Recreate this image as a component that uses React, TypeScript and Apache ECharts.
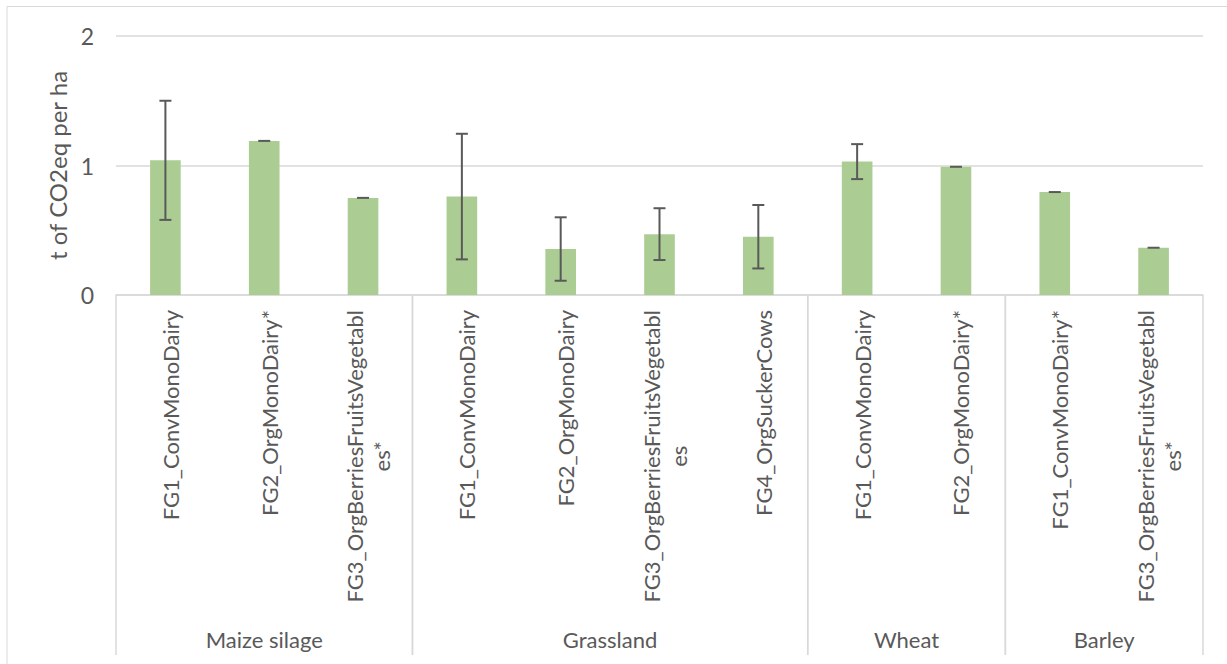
import React, { useEffect, useRef } from "react";
import * as echarts from "echarts";

// Crop / farm-group combinations on the x axis
const categories = [
  "FG1_ConvMonoDairy",
  "FG2_OrgMonoDairy*",
  "FG3_OrgBerriesFruitsVegetables*",
  "FG1_ConvMonoDairy",
  "FG2_OrgMonoDairy",
  "FG3_OrgBerriesFruitsVegetables",
  "FG4_OrgSuckerCows",
  "FG1_ConvMonoDairy",
  "FG2_OrgMonoDairy*",
  "FG1_ConvMonoDairy*",
  "FG3_OrgBerriesFruitsVegetables*",
];

// Crop groups: first and last category index of each
const groupNames = ["Maize silage", "Grassland", "Wheat", "Barley"];
const groupStart = [0, 3, 7, 9];
const groupEnd = [2, 6, 8, 10];

// Mean emission (t CO2eq per ha) and error-bar half width
const meanValues = [1.04, 1.19, 0.75, 0.76, 0.355, 0.47, 0.45, 1.03, 0.99, 0.795, 0.365];
const errorValues = [0.46, 0, 0, 0.485, 0.245, 0.2, 0.245, 0.135, 0, 0, 0];

const yTicks = [0, 1, 2];

const TEXT = "#595959";
const LINE = "#d9d9d9";
const FONT = "Lato, 'Open Sans', sans-serif";
const LABEL_SIZE = 22;
const TICK_SIZE = 23;
const TITLE_SIZE = 24;

// Excel-style wrapping of long category names
function wrapLabel(s: string): string {
  const max = 28;
  const lines: string[] = [];
  for (let i = 0; i < s.length; i += max) lines.push(s.slice(i, i + max));
  return lines.map((l) => "{c|" + l + "}").join("\n");
}

export default function App() {
  const ref = useRef<HTMLDivElement>(null);

  useEffect(() => {
    document.body.style.margin = "0";
    if (!ref.current) return;
    const chart = echarts.init(ref.current, undefined, { renderer: "svg" });

    const errorData = categories.map((_, i) => [
      i,
      meanValues[i] - errorValues[i],
      meanValues[i] + errorValues[i],
    ]);
    const groupData = groupNames.map((_, g) => [groupStart[g], groupEnd[g]]);

    chart.setOption({
      animation: false,
      textStyle: { fontFamily: FONT },
      grid: { left: 116, right: 24, top: 36, bottom: 369, containLabel: false },
      graphic: [
        {
          type: "rect",
          shape: { x: 7, y: 6.5, width: 1260, height: 720 },
          style: { fill: "none", stroke: LINE, lineWidth: 1 },
          silent: true,
        },
      ],
      xAxis: {
        type: "category",
        data: categories,
        axisLine: { show: true, lineStyle: { color: LINE, width: 1.5 } },
        axisTick: { show: false },
        axisLabel: {
          interval: 0,
          rotate: 90,
          margin: 15,
          color: TEXT,
          fontSize: LABEL_SIZE,
          fontFamily: FONT,
          padding: [10, 0, 0, 0],
          formatter: (v: string) => wrapLabel(v),
          rich: {
            c: { align: "center", color: TEXT, fontSize: LABEL_SIZE, fontFamily: FONT, lineHeight: 27 },
          },
        },
        splitLine: { show: false },
      },
      yAxis: {
        type: "value",
        min: yTicks[0],
        max: yTicks[yTicks.length - 1],
        interval: 1,
        name: "t of CO2eq per ha",
        nameLocation: "middle",
        nameRotate: 90,
        nameGap: 46,
        nameTextStyle: { color: TEXT, fontSize: TITLE_SIZE, fontFamily: FONT },
        axisLine: { show: false },
        axisTick: { show: false },
        axisLabel: { color: TEXT, fontSize: TICK_SIZE, fontFamily: FONT, margin: 22 },
        splitLine: { lineStyle: { color: LINE, width: 1.5 } },
      },
      series: [
        {
          type: "bar",
          data: meanValues,
          barWidth: "31%",
          itemStyle: { color: "#abcd93" },
          silent: true,
        },
        {
          type: "custom",
          silent: true,
          data: errorData,
          z: 5,
          renderItem: (params: any, api: any) => {
            const i = api.value(0);
            const lo = api.coord([i, api.value(1)]);
            const hi = api.coord([i, api.value(2)]);
            const cap = 6;
            const style = { stroke: TEXT, lineWidth: 2 };
            const children: any[] = [
              { type: "line", shape: { x1: hi[0] - cap, y1: hi[1], x2: hi[0] + cap, y2: hi[1] }, style },
            ];
            if (Math.abs(lo[1] - hi[1]) > 0.5) {
              children.push(
                { type: "line", shape: { x1: hi[0], y1: hi[1], x2: lo[0], y2: lo[1] }, style },
                { type: "line", shape: { x1: lo[0] - cap, y1: lo[1], x2: lo[0] + cap, y2: lo[1] }, style }
              );
            }
            return { type: "group", children };
          },
        },
        {
          type: "custom",
          silent: true,
          data: groupData,
          clip: false,
          renderItem: (params: any, api: any) => {
            const bw = api.size([1, 0])[0];
            const a = api.coord([api.value(0), 0]);
            const b = api.coord([api.value(1), 0]);
            const xl = a[0] - bw / 2;
            const xr = b[0] + bw / 2;
            const y0 = a[1];
            const style = { stroke: LINE, lineWidth: 1.5 };
            return {
              type: "group",
              children: [
                { type: "line", shape: { x1: xl, y1: y0, x2: xl, y2: y0 + 360 }, style },
                { type: "line", shape: { x1: xr, y1: y0, x2: xr, y2: y0 + 360 }, style },
                {
                  type: "text",
                  x: (xl + xr) / 2,
                  y: y0 + 344,
                  style: {
                    text: groupNames[params.dataIndex],
                    fill: TEXT,
                    font: `${LABEL_SIZE}px ${FONT}`,
                    align: "center",
                    verticalAlign: "middle",
                  },
                },
              ],
            };
          },
        },
      ],
    });

    return () => chart.dispose();
  }, []);

  return <div ref={ref} style={{ width: 1227, height: 664 }} />;
}
